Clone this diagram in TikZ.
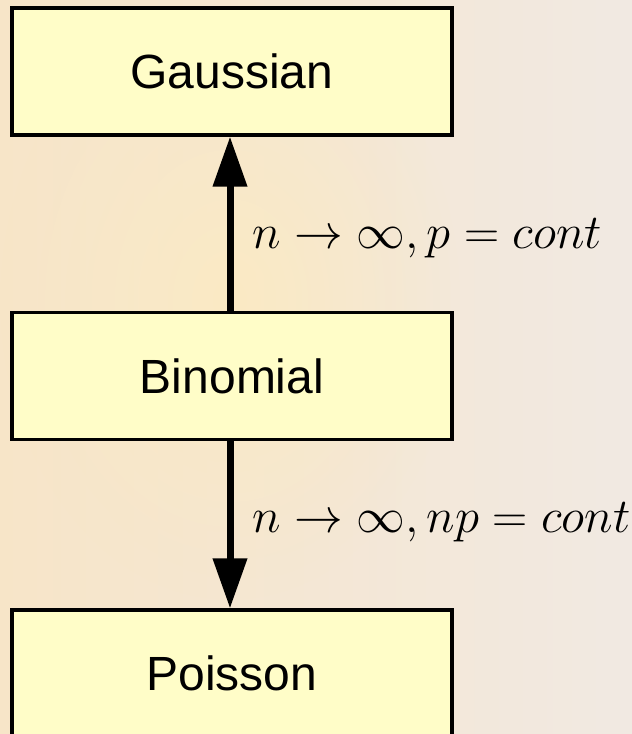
\documentclass[tikz,border=0pt]{standalone}
\usepackage[no-math]{fontspec}
\newfontfamily\boxfont{Liberation Sans}
\usepackage{amsmath}
\usepackage{tikz}
\usetikzlibrary{arrows.meta,positioning,fadings}
\definecolor{boxyellow}{RGB}{255,253,200}
\definecolor{bgpeach}{RGB}{247,229,200}
\definecolor{bgcream}{RGB}{241,233,226}
\definecolor{bgwarm}{RGB}{251,234,196}
\tikzfading[name=warmglow, inner color=transparent!0, outer color=transparent!100]
\newcommand{\limtext}[1]{\scalebox{1.175}{$#1$}}

\begin{document}
\begin{tikzpicture}[x=0.5pt, y=-0.5pt,
    dist/.style={rectangle, draw=black, line width=1.6pt, fill=boxyellow,
                 minimum width=220pt, minimum height=63.5pt, inner sep=0pt,
                 font=\boxfont\fontsize{24}{28}\selectfont},
    limit/.style={line width=3.5pt, -{Triangle[length=25pt, width=16.5pt]}},
    lbl/.style={inner sep=0pt, anchor=base west, font=\fontsize{20.74}{25}\selectfont}
]
    % background
    \fill[left color=bgpeach, right color=bgcream] (0,0) rectangle (632,734);
    \fill[bgwarm, path fading=warmglow] (230,300) ellipse (230 and 300);
    \useasboundingbox (0,0) rectangle (632,734);

    \node[dist] (gauss) at (232,71.5) {\raisebox{-2pt}{Gaussian}};
    \node[dist] (binom) at (232,376) {Binomial};
    \node[dist] (poiss) at (232,673.5) {\raisebox{-1pt}{Poisson}};

    \draw[limit] (binom.north -| 230,0) -- (gauss.south -| 230,0);
    \draw[limit] (binom.south -| 230,0) -- (poiss.north -| 230,0);

    \node[lbl] (lgauss) at (252,248) {\limtext{n\rightarrow\infty, p=cont}};
    \node[lbl] (lpoiss) at (252,532) {\limtext{n\rightarrow\infty, np=cont}};
\end{tikzpicture}
\end{document}
